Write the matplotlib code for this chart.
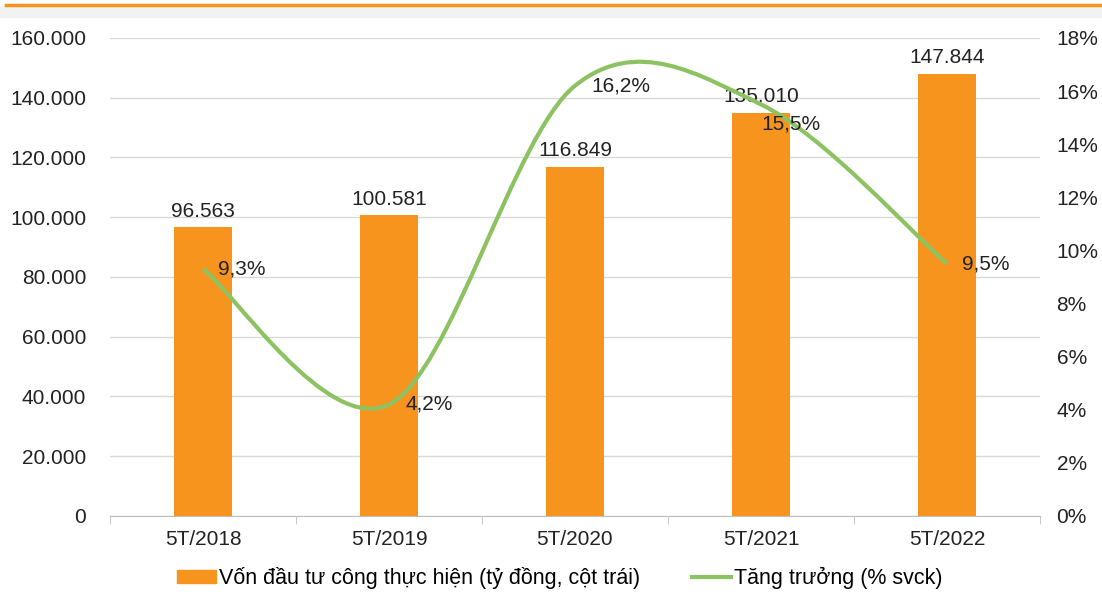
import numpy as np
import matplotlib.pyplot as plt
from matplotlib.path import Path
from matplotlib.patches import PathPatch, Rectangle
from matplotlib.lines import Line2D
from matplotlib.ticker import FuncFormatter, FixedLocator

plt.rcParams['font.family'] = ['Liberation Sans', 'DejaVu Sans']

categories = ["5T/2018", "5T/2019", "5T/2020", "5T/2021", "5T/2022"]
von_dau_tu = [96563, 100581, 116849, 135010, 147844]
tang_truong = [9.3, 4.2, 16.2, 15.5, 9.5]
bar_labels = ["96.563", "100.581", "116.849", "135.010", "147.844"]
line_labels = ["9,3%", "4,2%", "16,2%", "15,5%", "9,5%"]

bar_color = "#F7941D"
line_color = "#8DC262"
grid_color = "#D9D9D9"
txt = "#222222"

fig = plt.figure(figsize=(11.02, 6.02), dpi=100)
ax = fig.add_axes([0.0998, 0.1429, 0.8439, 0.794])
ax2 = ax.twinx()

x = np.arange(len(categories))
ax.bar(x, von_dau_tu, width=0.31, color=bar_color, zorder=2)
ax.set_xlim(-0.5, len(categories) - 0.5)
ax.set_ylim(0, 160000)
ax.set_yticks(np.arange(0, 160001, 20000))
ax.yaxis.set_major_formatter(FuncFormatter(lambda v, p: f"{int(v):,}".replace(",", ".")))
ax.grid(axis="y", color=grid_color, lw=1, zorder=0)
ax.set_axisbelow(True)
ax.set_xticks(x)
ax.set_xticklabels(categories)
ax.xaxis.set_minor_locator(FixedLocator(np.arange(-0.5, len(categories), 1.0)))
ax.tick_params(axis="x", which="major", length=0, pad=10, labelsize=15, colors=txt)
ax.tick_params(axis="x", which="minor", length=6, color="#BFBFBF", direction="out")
ax.tick_params(axis="y", length=0, pad=17, labelsize=15, colors=txt)
for s in ["top", "left", "right"]:
    ax.spines[s].set_visible(False)
    ax2.spines[s].set_visible(False)
ax.spines["bottom"].set_color("#BFBFBF")
ax2.spines["bottom"].set_visible(False)

for xi, v, lab in zip(x, von_dau_tu, bar_labels):
    ax.annotate(lab, (xi, v), xytext=(0, 5), textcoords="offset points",
                ha="center", va="bottom", fontsize=15, color=txt)

# smoothed line (Excel-style Bezier through the data points)
ax2.set_ylim(0, 18)
ax2.set_yticks(np.arange(0, 19, 2))
ax2.yaxis.set_major_formatter(FuncFormatter(lambda v, p: f"{int(v)}%"))
ax2.tick_params(axis="y", length=0, pad=12, labelsize=15, colors=txt)

pts = np.column_stack([x, tang_truong]).astype(float)
verts = [pts[0]]
codes = [Path.MOVETO]
n = len(pts)
for i in range(n - 1):
    p_prev = pts[max(i - 1, 0)]
    p0, p1 = pts[i], pts[i + 1]
    p_next = pts[min(i + 2, n - 1)]
    verts += [p0 + (p1 - p_prev) / 6, p1 - (p_next - p0) / 6, p1]
    codes += [Path.CURVE4] * 3
ax2.add_patch(PathPatch(Path(verts, codes), fill=False, edgecolor=line_color, lw=3, zorder=3))

offsets = [(11, 0), (12, 0), (12, 0), (0, -14), (11, 0)]
for xi, v, lab, off in zip(x, tang_truong, line_labels, offsets):
    ax2.annotate(lab, (xi, v), xytext=off, textcoords="offset points",
                 ha="left", va="center", fontsize=15, color=txt, zorder=4)

# header strip
fig.add_artist(Rectangle((0, 1 - 18 / 602), 1, 12 / 602, transform=fig.transFigure,
                         color="#F2F2F2", lw=0))
fig.add_artist(Line2D([0.005, 1], [1 - 5 / 602, 1 - 5 / 602], transform=fig.transFigure,
                      color="#F7941D", lw=2.5))

handles = [Rectangle((0, 0), 1, 1, color=bar_color),
           Line2D([0], [0], color=line_color, lw=3)]
fig.legend(handles, ["Vốn đầu tư công thực hiện (tỷ đồng, cột trái)", "Tăng trưởng (% svck)"],
           loc="center", bbox_to_anchor=(0.508, 1 - 578 / 602), ncol=2, frameon=False,
           fontsize=15.5, handlelength=1.8, handleheight=0.5, handletextpad=0.15,
           columnspacing=2.4)

fig.savefig("out.png", dpi=100)
